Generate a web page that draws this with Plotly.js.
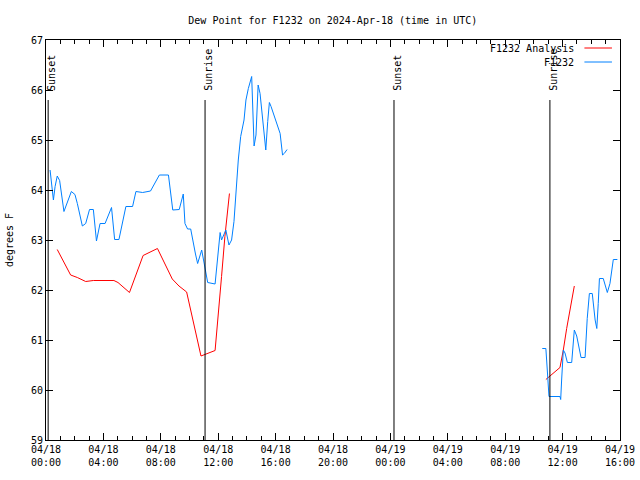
<!DOCTYPE html>
<html>
<head>
<meta charset="utf-8">
<script src="https://cdn.plot.ly/plotly-3.0.1.min.js"></script>
<style>html,body{margin:0;padding:0;background:#fff;}#chart{width:640px;height:480px;}</style>
</head>
<body>
<div id="chart"></div>
<script>
// F1232 observations (gap between the two runs marked with null)
const obsTimes = [
  "2024-04-18 00:17","2024-04-18 00:25","2024-04-18 00:31","2024-04-18 00:38","2024-04-18 00:47","2024-04-18 00:57",
  "2024-04-18 01:04","2024-04-18 01:15","2024-04-18 01:46","2024-04-18 02:01","2024-04-18 02:11","2024-04-18 02:32",
  "2024-04-18 02:46","2024-04-18 03:02","2024-04-18 03:18","2024-04-18 03:31","2024-04-18 03:46","2024-04-18 04:07",
  "2024-04-18 04:34","2024-04-18 04:47","2024-04-18 05:05","2024-04-18 05:34","2024-04-18 06:02","2024-04-18 06:16",
  "2024-04-18 06:44","2024-04-18 07:17","2024-04-18 07:54","2024-04-18 08:32","2024-04-18 08:50","2024-04-18 09:17",
  "2024-04-18 09:34","2024-04-18 09:41","2024-04-18 09:52","2024-04-18 10:05","2024-04-18 10:25","2024-04-18 10:34",
  "2024-04-18 10:51","2024-04-18 11:05","2024-04-18 11:16","2024-04-18 11:47","2024-04-18 11:58","2024-04-18 12:08",
  "2024-04-18 12:14","2024-04-18 12:28","2024-04-18 12:32","2024-04-18 12:45","2024-04-18 12:56","2024-04-18 13:06",
  "2024-04-18 13:14","2024-04-18 13:24","2024-04-18 13:34","2024-04-18 13:48","2024-04-18 13:56","2024-04-18 14:06",
  "2024-04-18 14:20","2024-04-18 14:24","2024-04-18 14:30","2024-04-18 14:38","2024-04-18 14:47","2024-04-18 14:55",
  "2024-04-18 15:02","2024-04-18 15:11","2024-04-18 15:19","2024-04-18 15:27","2024-04-18 15:34","2024-04-18 15:41",
  "2024-04-18 15:58","2024-04-18 16:19","2024-04-18 16:29","2024-04-18 16:36","2024-04-18 16:48",
  "2024-04-19 00:00",
  "2024-04-19 10:35","2024-04-19 10:50","2024-04-19 10:56","2024-04-19 11:03","2024-04-19 11:49","2024-04-19 11:52",
  "2024-04-19 11:56","2024-04-19 12:03","2024-04-19 12:10","2024-04-19 12:20","2024-04-19 12:38","2024-04-19 12:49",
  "2024-04-19 12:59","2024-04-19 13:17","2024-04-19 13:34","2024-04-19 13:43","2024-04-19 13:52","2024-04-19 14:04",
  "2024-04-19 14:16","2024-04-19 14:23","2024-04-19 14:29","2024-04-19 14:34","2024-04-19 14:50","2024-04-19 15:07",
  "2024-04-19 15:18","2024-04-19 15:32","2024-04-19 15:49"
];
const obsValues = [
  64.40,64.10,63.80,64.07,64.28,64.19,
  63.93,63.57,63.97,63.91,63.73,63.28,
  63.33,63.61,63.61,62.98,63.33,63.33,
  63.65,63.01,63.01,63.67,63.67,63.97,
  63.95,63.98,64.30,64.30,63.60,63.61,
  63.92,63.33,63.22,63.22,62.72,62.53,
  62.80,62.40,62.15,62.12,62.67,63.15,
  63.00,63.15,63.20,62.90,63.00,63.37,
  63.93,64.60,65.07,65.40,65.80,66.03,
  66.27,65.60,64.88,65.10,66.10,65.93,
  65.63,65.17,64.80,65.37,65.75,65.67,
  65.43,65.13,64.70,64.73,64.81,
  null,
  60.83,60.83,60.40,59.87,59.87,59.81,
  60.20,60.80,60.74,60.55,60.55,61.20,
  61.08,60.65,60.65,61.43,61.93,61.93,
  61.40,61.23,61.73,62.23,62.23,61.95,
  62.13,62.61,62.61
];

// F1232 Analysis
const anaTimes = [
  "2024-04-18 00:47","2024-04-18 01:43","2024-04-18 02:11","2024-04-18 02:46","2024-04-18 03:18","2024-04-18 04:44",
  "2024-04-18 05:01","2024-04-18 05:49","2024-04-18 06:46","2024-04-18 07:46","2024-04-18 08:48","2024-04-18 09:16",
  "2024-04-18 09:48","2024-04-18 10:48","2024-04-18 11:47","2024-04-18 11:58","2024-04-18 12:14","2024-04-18 12:28",
  "2024-04-18 12:47",
  "2024-04-19 00:00",
  "2024-04-19 10:50","2024-04-19 11:07","2024-04-19 11:49","2024-04-19 12:03","2024-04-19 12:17","2024-04-19 12:49"
];
const anaValues = [
  62.81,62.30,62.25,62.17,62.19,62.19,
  62.15,61.95,62.69,62.83,62.22,62.08,
  61.96,60.68,60.79,61.34,62.27,63.07,
  63.93,
  null,
  60.21,60.28,60.45,60.80,61.23,62.08
];

// Sun events
const sunTimes = ["2024-04-18 00:09","2024-04-18 11:05","2024-04-19 00:15","2024-04-19 11:07"];
const sunLabels = ["Sunset","Sunrise","Sunset","Sunrise"];

// Axis ticks
const xTickVals = ["2024-04-18 00:00","2024-04-18 04:00","2024-04-18 08:00","2024-04-18 12:00","2024-04-18 16:00","2024-04-18 20:00",
                   "2024-04-19 00:00","2024-04-19 04:00","2024-04-19 08:00","2024-04-19 12:00","2024-04-19 16:00"];
const xTickText = ["04/18<br>00:00","04/18<br>04:00","04/18<br>08:00","04/18<br>12:00","04/18<br>16:00","04/18<br>20:00",
                   "04/19<br>00:00","04/19<br>04:00","04/19<br>08:00","04/19<br>12:00","04/19<br>16:00"];
const yTickVals = [59,60,61,62,63,64,65,66,67];

const seriesNames = ["F1232 Analysis","F1232"];
const seriesColors = ["#ff0000","#0080ff"];

const FONT = {family:"DejaVu Sans Mono, monospace", size:10, color:"#000"};

const traces = [
  {x: anaTimes, y: anaValues, type:"scatter", mode:"lines", name: seriesNames[0],
   line:{color: seriesColors[0], width:1}, connectgaps:false, showlegend:false},
  {x: obsTimes, y: obsValues, type:"scatter", mode:"lines", name: seriesNames[1],
   line:{color: seriesColors[1], width:1}, connectgaps:false, showlegend:false}
];

const shapes = [];
const annotations = [];
sunTimes.forEach((t,i)=>{
  shapes.push({type:"line", xref:"x", yref:"paper", x0:t, x1:t, y0:0, y1:0.85,
               line:{color:"#000", width:1}});
  annotations.push({x:t, xref:"x", y:0.868, yref:"paper", text:sunLabels[i], showarrow:false,
                    textangle:-90, xanchor:"center", yanchor:"bottom", xshift:4, font:FONT});
});
// gnuplot style key (text then line sample)
const keyY = [0.98, 0.945];
seriesNames.forEach((n,i)=>{
  annotations.push({x:0.923, xref:"paper", y:keyY[i], yref:"paper", text:n, showarrow:false,
                    xanchor:"right", yanchor:"middle", font:FONT});
  shapes.push({type:"line", xref:"paper", yref:"paper", x0:0.938, x1:0.986, y0:keyY[i], y1:keyY[i],
               line:{color:seriesColors[i], width:1}});
});

const layout = {
  width:640, height:480,
  margin:{l:46, r:20, t:40, b:40, pad:0},
  paper_bgcolor:"#fff", plot_bgcolor:"#fff",
  font: FONT,
  title:{text:"Dew Point for F1232 on 2024-Apr-18 (time in UTC)", font:FONT, x:0.52, xanchor:"center", y:0.958, yanchor:"middle"},
  showlegend:false,
  xaxis:{type:"date", range:["2024-04-18 00:00","2024-04-19 16:00"], tickmode:"array",
         tickvals:xTickVals, ticktext:xTickText, ticks:"inside", ticklen:7, tickcolor:"#000", tickwidth:1,
         minor:{dtick:3600000, ticks:"inside", ticklen:4, tickcolor:"#000", tickwidth:1, showgrid:false},
         showgrid:false, zeroline:false, showline:true, linecolor:"#000", linewidth:1, mirror:"allticks",
         tickfont:FONT, fixedrange:true},
  yaxis:{range:[59,67], tickmode:"array", tickvals:yTickVals, ticks:"inside", ticklen:7, tickcolor:"#000",
         showgrid:false, zeroline:false, showline:true, linecolor:"#000", linewidth:1, mirror:"allticks",
         tickfont:FONT, title:{text:"degrees F", font:FONT, standoff:15}},
  shapes: shapes,
  annotations: annotations
};

Plotly.newPlot("chart", traces, layout, {staticPlot:true, displayModeBar:false});
</script>
</body>
</html>
